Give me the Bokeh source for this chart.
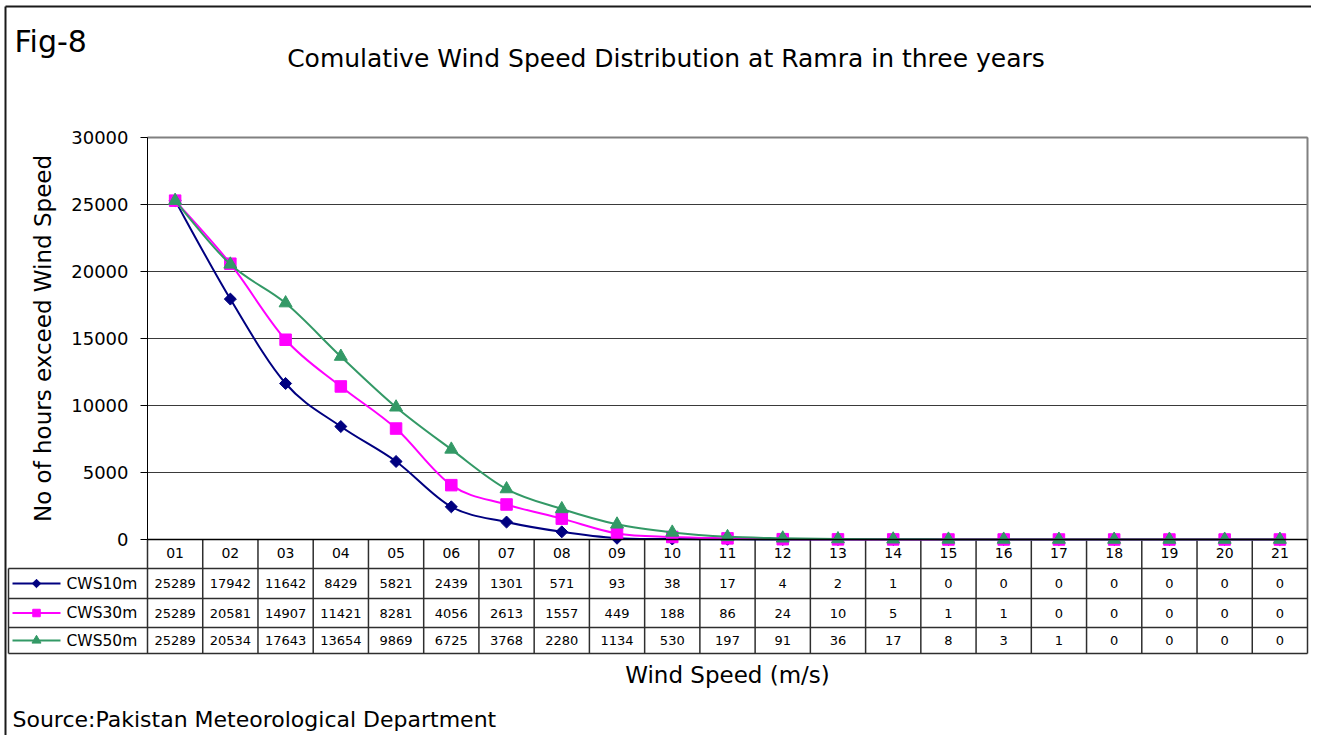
import math
from bokeh.plotting import figure
from bokeh.models import Range1d, LinearAxis, FixedTicker, Grid
from bokeh.core.properties import value
from bokeh.embed import file_html
from bokeh.resources import INLINE

# ---------------- data ----------------
categories = ["01", "02", "03", "04", "05", "06", "07", "08", "09", "10", "11",
              "12", "13", "14", "15", "16", "17", "18", "19", "20", "21"]
cws10m = [25289, 17942, 11642, 8429, 5821, 2439, 1301, 571, 93, 38, 17,
          4, 2, 1, 0, 0, 0, 0, 0, 0, 0]
cws30m = [25289, 20581, 14907, 11421, 8281, 4056, 2613, 1557, 449, 188, 86,
          24, 10, 5, 1, 1, 0, 0, 0, 0, 0]
cws50m = [25289, 20534, 17643, 13654, 9869, 6725, 3768, 2280, 1134, 530, 197,
          91, 36, 17, 8, 3, 1, 0, 0, 0, 0]
series_names = ["CWS10m", "CWS30m", "CWS50m"]
y_ticks = [0, 5000, 10000, 15000, 20000, 25000, 30000]

title_text = "Comulative Wind Speed Distribution at Ramra in three years"
fig_text = "Fig-8"
y_title = "No of hours exceed Wind Speed"
x_title = "Wind Speed (m/s)"
source_text = "Source:Pakistan Meteorological Department"

# ---------------- layout (picture pixels) ----------------
CX0, CY0 = 0, 0          # canvas origin in the picture
W, H = 1311, 735
PL, PR, PT, PB = 147, 1307, 137, 539   # plot area
YMAX = 30000
NC = len(categories)
ux = (PR - PL) / NC
uy = (PB - PT) / YMAX
FONT = "DejaVu Sans"


def X(px):
    return 0.5 + (px - PL) / ux


def Y(py):
    return (PB - py) / uy


p = figure(width=W, height=H,
           x_range=Range1d(X(CX0), X(CX0 + W)),
           y_range=Range1d(Y(CY0 + H), Y(CY0)),
           x_axis_type=None, y_axis_type=None,
           toolbar_location=None, output_backend="svg",
           min_border=0, outline_line_color=None,
           background_fill_color="white", border_fill_color="white")

xpos = list(range(1, NC + 1))

# ---------------- axes ----------------
yt = FixedTicker(ticks=y_ticks, minor_ticks=[])
yaxis = LinearAxis(fixed_location=0.5, bounds=(0, YMAX), ticker=yt,
                   axis_label=y_title)
yaxis.axis_line_color = "black"
yaxis.axis_line_width = 1
yaxis.major_tick_out = 7
yaxis.major_tick_in = 0
yaxis.major_tick_line_color = "black"
yaxis.minor_tick_line_color = None
yaxis.major_label_text_font = FONT
yaxis.major_label_text_font_size = "18px"
yaxis.major_label_text_color = "black"
yaxis.major_label_standoff = 12
yaxis.axis_label_text_font = FONT
yaxis.axis_label_text_font_size = "23px"
yaxis.axis_label_text_font_style = "normal"
yaxis.axis_label_text_color = "black"
yaxis.axis_label_standoff = 12
p.add_layout(yaxis, "left")

xt = FixedTicker(ticks=xpos, minor_ticks=[])
xaxis = LinearAxis(fixed_location=0, bounds=(0.5, NC + 0.5), ticker=xt,
                   major_label_overrides={i: c for i, c in zip(xpos, categories)},
                   axis_label=x_title)
xaxis.axis_line_color = "black"
xaxis.axis_line_width = 1.5
xaxis.major_tick_line_color = None
xaxis.minor_tick_line_color = None
xaxis.major_label_text_font = FONT
xaxis.major_label_text_font_size = "14px"
xaxis.major_label_text_color = "black"
xaxis.major_label_standoff = 2
xaxis.axis_label_text_font = FONT
xaxis.axis_label_text_font_size = "23px"
xaxis.axis_label_text_font_style = "normal"
xaxis.axis_label_text_color = "black"
xaxis.axis_label_standoff = 101
p.add_layout(xaxis, "below")

need_cover = False
try:
    grid = Grid(dimension=1, ticker=yt, cross_bounds=(0.5, NC + 0.5))
except Exception:
    grid = Grid(dimension=1, ticker=yt)
    need_cover = True
grid.grid_line_color = "#3a3a3a"
grid.grid_line_width = 1
p.add_layout(grid)

if need_cover:
    p.quad(left=[X(CX0), X(PR + 0.5)], right=[X(PL - 0.5), X(CX0 + W)],
           bottom=[0, 0], top=[YMAX + 200, YMAX + 200],
           fill_color="white", line_color=None)

# plot-area border (top and right, gray)
p.segment(x0=[0.5, NC + 0.5], y0=[YMAX, 0], x1=[NC + 0.5, NC + 0.5], y1=[YMAX, YMAX],
          line_color="#808080", line_width=2)

# ---------------- data table lines ----------------
ROW_EDGES = [568, 598, 627, 653]
ROW_CENTERS = [583, 612.5, 640]
TBL_L = 8
tline = "#2e2e2e"
p.segment(x0=[X(TBL_L)] * len(ROW_EDGES), y0=[Y(r) for r in ROW_EDGES],
          x1=[NC + 0.5] * len(ROW_EDGES), y1=[Y(r) for r in ROW_EDGES],
          line_color=tline, line_width=1.5)
vx = [i + 0.5 for i in range(0, NC + 1)]
p.segment(x0=vx, y0=[0] * len(vx), x1=vx, y1=[Y(ROW_EDGES[-1])] * len(vx),
          line_color=tline, line_width=1.5)
p.segment(x0=[X(TBL_L)], y0=[Y(ROW_EDGES[0])], x1=[X(TBL_L)], y1=[Y(ROW_EDGES[-1])],
          line_color=tline, line_width=1.5)

# outer chart border (left and top)
p.segment(x0=[X(5), X(5)], y0=[Y(6), Y(6)],
          x1=[X(5), X(CX0 + W)], y1=[Y(CY0 + H), Y(6)],
          line_color="#1a1a1a", line_width=2)


# ---------------- series ----------------
def smooth(xs, ys):
    n = len(xs)
    out = {k: [] for k in ("x0", "y0", "x1", "y1", "cx0", "cy0", "cx1", "cy1")}
    for i in range(n - 1):
        a = i - 1 if i > 0 else i
        b = i + 2 if i + 2 < n else i + 1
        out["x0"].append(xs[i]); out["y0"].append(ys[i])
        out["x1"].append(xs[i + 1]); out["y1"].append(ys[i + 1])
        out["cx0"].append(xs[i] + (xs[i + 1] - xs[a]) / 6)
        out["cy0"].append(ys[i] + (ys[i + 1] - ys[a]) / 6)
        out["cx1"].append(xs[i + 1] - (xs[b] - xs[i]) / 6)
        out["cy1"].append(ys[i + 1] - (ys[b] - ys[i]) / 6)
    return out


styles = [
    dict(color="#000080", marker="square", angle=math.pi / 4, size=8.5, ksize=6),
    dict(color="#FF00FF", marker="square", angle=0.0, size=11.5, ksize=7.5),
    dict(color="#339966", marker="triangle", angle=0.0, size=13, ksize=9),
]
all_series = [cws10m, cws30m, cws50m]

for vals, st in zip(all_series, styles):
    bz = smooth(xpos, vals)
    p.bezier(line_color=st["color"], line_width=2, **bz)
    p.scatter(x=xpos, y=vals, marker=st["marker"], angle=st["angle"],
              size=st["size"], fill_color=st["color"], line_color=st["color"])

# ---------------- table content ----------------
for name, vals, st, rc in zip(series_names, all_series, styles, ROW_CENTERS):
    p.segment(x0=[X(12)], y0=[Y(rc)], x1=[X(60)], y1=[Y(rc)],
              line_color=st["color"], line_width=2)
    p.scatter(x=[X(36)], y=[Y(rc)], marker=st["marker"], angle=st["angle"],
              size=st["ksize"], fill_color=st["color"], line_color=st["color"])
    p.text(x=[X(66)], y=[Y(rc)], text=[name], text_font=value(FONT),
           text_font_size="15.5px", text_align="left", text_baseline="middle",
           text_color="black")
    p.text(x=xpos, y=[Y(rc)] * NC, text=[str(v) for v in vals], text_font=value(FONT),
           text_font_size="13px", text_align="center", text_baseline="middle",
           text_color="black")

# ---------------- titles ----------------
p.text(x=[X(14)], y=[Y(41)], text=[fig_text], text_font=value(FONT),
       text_font_size="30px", text_align="left", text_baseline="alphabetic",
       text_color="black")
p.text(x=[X(665.5)], y=[Y(58)], text=[title_text], text_font=value(FONT),
       text_font_size="25px", text_align="center", text_baseline="alphabetic",
       text_color="black")
p.text(x=[X(12)], y=[Y(719)], text=[source_text], text_font=value(FONT),
       text_font_size="22px", text_align="left", text_baseline="alphabetic",
       text_color="black")

open("out.html", "w").write(file_html(p, INLINE))
